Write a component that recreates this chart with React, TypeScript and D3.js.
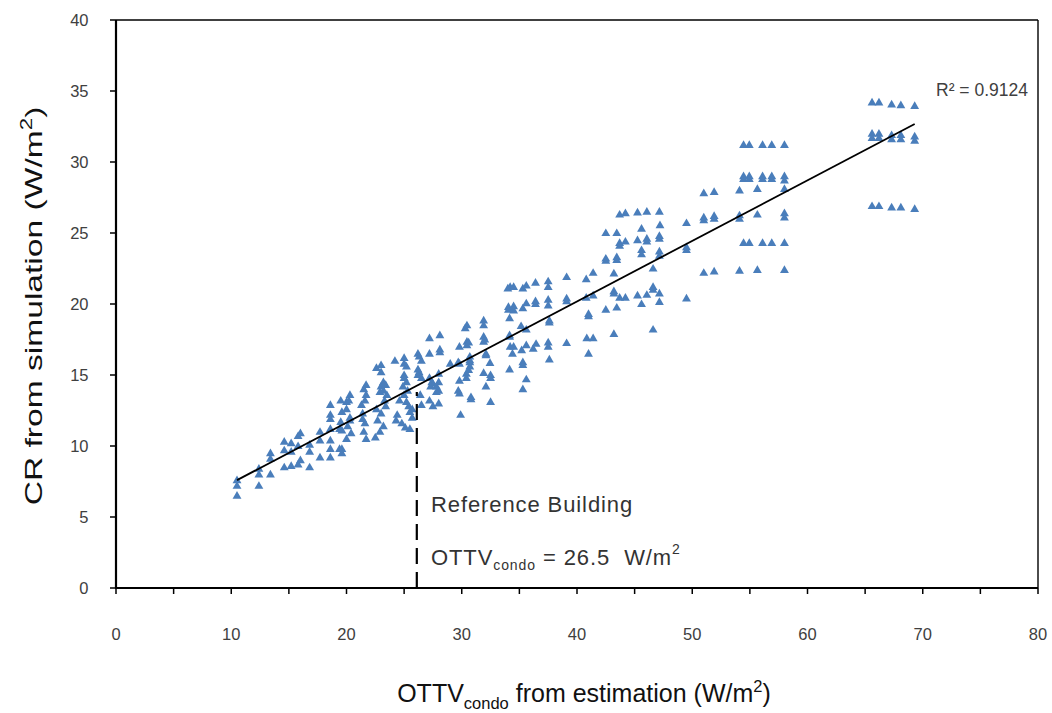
import React from 'react';
import * as d3 from 'd3';

// [OTTV estimate, CR simulation]
const points: [number, number][] = [
  [10.5, 7.6], [10.5, 7.2], [10.5, 6.5],
  [12.4, 8.4], [12.4, 8.0], [12.4, 7.2],
  [13.4, 9.5], [13.4, 9.1], [13.4, 8.0],
  [14.6, 10.3], [14.6, 9.7], [14.6, 8.5],
  [15.2, 10.2], [15.2, 9.6], [15.2, 8.6],
  [15.8, 10.7], [16.0, 10.9], [15.8, 10.0], [16.0, 9.0], [15.8, 8.7],
  [16.8, 10.1], [16.8, 9.6], [16.8, 8.5],
  [17.7, 11.0], [17.7, 10.4], [17.7, 9.2],
  [18.6, 12.9], [18.6, 12.2], [18.6, 11.9], [18.6, 11.2], [18.6, 10.4], [18.6, 9.8], [18.6, 9.2],
  [19.5, 13.2], [19.6, 12.4], [19.5, 11.7], [19.4, 11.2], [19.6, 11.1], [19.4, 9.8], [19.6, 9.8], [19.6, 9.5],
  [20.0, 13.1], [20.3, 13.6], [20.2, 13.2], [20.0, 12.6], [20.3, 12.0], [20.1, 11.4], [20.4, 10.9], [20.0, 10.5], [20.3, 11.8],
  [21.3, 12.9], [21.6, 13.2], [21.7, 13.6], [21.5, 14.0], [21.7, 14.3], [21.4, 12.3], [21.6, 11.6], [21.5, 11.0], [21.7, 10.5], [21.4, 11.9],
  [22.6, 15.5], [22.9, 13.8], [23.0, 15.7], [23.0, 15.2], [23.2, 14.5], [23.0, 14.2], [23.4, 14.3], [23.2, 13.9], [23.5, 13.6],
  [23.3, 13.2], [22.6, 12.6], [23.0, 12.3], [22.7, 11.8], [23.2, 11.4], [22.9, 11.0], [22.5, 10.6], [23.4, 12.8],
  [24.2, 16.0], [25.0, 16.2], [25.0, 15.8], [25.2, 15.6], [25.0, 15.0], [25.0, 14.8], [25.2, 14.5], [24.9, 14.2], [25.3, 13.9],
  [25.0, 13.6], [24.6, 13.2], [25.2, 13.1], [25.4, 12.8], [25.7, 12.6], [25.5, 12.4], [25.7, 12.0], [24.4, 12.2], [24.8, 11.6],
  [25.1, 11.3], [25.5, 11.2], [24.3, 11.8],
  [26.2, 16.5], [26.3, 16.3], [26.5, 16.0], [26.2, 15.4], [26.3, 15.2], [26.2, 15.0], [26.5, 14.8], [26.4, 13.6], [26.5, 12.9],
  [27.2, 17.6], [27.2, 16.5], [27.2, 14.8], [27.4, 14.5], [27.5, 14.4], [27.8, 14.2], [28.0, 13.9], [27.3, 14.2], [27.8, 13.8],
  [27.2, 13.2], [27.5, 12.8], [28.1, 17.8], [28.1, 16.8], [28.1, 16.6], [28.0, 15.1], [28.0, 14.5], [28.0, 13.0],
  [29.7, 15.9], [29.8, 15.8], [29.0, 15.8], [29.8, 14.6], [29.7, 13.9], [29.8, 13.7], [29.8, 17.0], [29.9, 12.2],
  [30.3, 18.3], [30.45, 18.5], [30.45, 17.35], [30.45, 17.1], [30.6, 17.3], [30.7, 16.3], [30.7, 16.05], [30.7, 15.9],
  [30.7, 15.6], [30.6, 15.35], [30.4, 15.1], [30.4, 14.8], [30.8, 13.45], [30.8, 13.3],
  [31.9, 18.85], [31.9, 18.5], [31.9, 17.7], [32.0, 17.5], [31.9, 17.35], [32.1, 16.5], [32.1, 16.4], [32.45, 15.85],
  [31.9, 15.15], [32.5, 15.0], [32.5, 14.8], [32.1, 14.2], [32.5, 13.1],
  [34.0, 21.1], [34.2, 21.2], [34.5, 21.2], [35.3, 21.1], [35.6, 21.3], [36.4, 21.5], [37.5, 21.6], [37.5, 21.2], [39.1, 21.9],
  [34.05, 19.8], [34.05, 19.6], [34.5, 19.85], [34.5, 19.55], [35.3, 19.7], [35.6, 20.05], [36.4, 20.2], [36.4, 20.0],
  [37.5, 20.3], [37.5, 19.9], [39.1, 20.4], [39.1, 20.2],
  [34.15, 19.0], [35.15, 18.45], [35.6, 18.2], [37.6, 18.85], [37.6, 18.7],
  [34.15, 17.8], [34.15, 17.7], [34.2, 17.0], [34.5, 17.0], [34.4, 16.5], [35.2, 16.75], [35.6, 17.1], [36.2, 16.85],
  [36.45, 17.2], [37.5, 17.3], [37.5, 17.0], [39.1, 17.25],
  [34.15, 15.4], [35.3, 15.9], [35.3, 15.7], [37.6, 16.1], [35.6, 14.7], [35.3, 14.0],
  [40.8, 21.75], [41.4, 22.2], [43.2, 22.15], [40.8, 20.45], [41.4, 20.6], [43.2, 20.9], [43.2, 20.75], [43.7, 20.45],
  [44.2, 20.45], [45.25, 20.6], [46.06, 20.65], [46.6, 21.2], [46.6, 21.0], [47.15, 20.75],
  [41.0, 19.3], [41.0, 19.15], [42.5, 19.6], [43.45, 19.75], [45.6, 20.0], [47.15, 20.15],
  [40.85, 17.6], [41.4, 17.6], [43.2, 17.9], [46.6, 18.2], [41.0, 16.5],
  [42.5, 25.0], [43.45, 25.0], [45.6, 25.3], [47.2, 25.55],
  [43.7, 26.3], [44.2, 26.4], [45.25, 26.45], [46.06, 26.5], [47.15, 26.5],
  [43.7, 24.3], [44.2, 24.4], [45.25, 24.5], [46.06, 24.6], [47.15, 24.8], [43.7, 24.1], [46.06, 24.4], [47.15, 24.6],
  [47.15, 23.7], [47.15, 23.4],
  [42.5, 23.2], [42.5, 23.05], [43.45, 23.3], [43.45, 23.1], [45.6, 23.8], [45.6, 23.5], [46.6, 22.5],
  [49.5, 25.7], [49.5, 24.0], [49.5, 23.8], [49.5, 20.4],
  [51.0, 27.8], [51.9, 27.9], [51.0, 26.1], [51.0, 25.9], [51.9, 26.2], [51.9, 26.0], [51.0, 22.2], [51.9, 22.3],
  [54.1, 28.0], [54.1, 26.25], [54.1, 26.0], [54.1, 22.35],
  [54.45, 31.2], [54.95, 31.2], [56.1, 31.2], [56.9, 31.2], [58.0, 31.2],
  [54.45, 29.0], [54.45, 28.8], [54.95, 29.0], [54.95, 28.8], [56.1, 29.0], [56.1, 28.8], [56.9, 29.0], [56.9, 28.8],
  [58.0, 29.0], [58.0, 28.7],
  [54.45, 24.3], [54.95, 24.3], [56.1, 24.3], [56.9, 24.3], [58.0, 24.3],
  [58.0, 28.1], [58.0, 26.4], [58.0, 26.1], [58.0, 22.4],
  [55.65, 28.1], [55.65, 26.3], [55.65, 22.4],
  [65.6, 34.2], [66.2, 34.2], [67.3, 34.05], [68.1, 34.0], [69.3, 33.95],
  [65.6, 32.0], [65.6, 31.7], [66.2, 32.0], [66.2, 31.7], [67.3, 31.9], [67.3, 31.6], [68.1, 31.9], [68.1, 31.6],
  [69.3, 31.8], [69.3, 31.5],
  [65.6, 26.9], [66.2, 26.9], [67.3, 26.8], [68.1, 26.8], [69.3, 26.7],
];

const xTickValues = [0, 10, 20, 30, 40, 50, 60, 70, 80];
const xMinorTicks = d3.range(0, 81, 5);
const yTickValues = [0, 5, 10, 15, 20, 25, 30, 35, 40];

// linear trend shown on the chart
const trendSlope = 0.4265;
const trendIntercept = 3.12;
const trendFrom = 10.5;
const trendTo = 69.3;
const rSquaredLabel = 'R² = 0.9124';

// reference building marker
const refX = 26.1;
const refTopY = 13.8;

const W = 1052;
const H = 713;
const left = 116;
const right = 1038;
const top = 20;
const bottom = 588;

export default function App() {
  const x = d3.scaleLinear().domain([0, 80]).range([left, right]);
  const y = d3.scaleLinear().domain([0, 40]).range([bottom, top]);
  const tri = d3.symbol().type(d3.symbolTriangle).size(34)();
  const labelFont = '"Liberation Sans", Arial, sans-serif';

  return (
    <svg width={W} height={H} style={{ position: 'absolute', left: 0, top: 0, background: '#fff' }}>
      {/* frame */}
      <line x1={left} x2={right} y1={top} y2={top} stroke="#000" strokeWidth={1.6} />
      <line x1={right} x2={right} y1={top} y2={bottom} stroke="#000" strokeWidth={1.4} />

      {/* points */}
      <g fill="#4a7ebb">
        {points.map(([px, py], i) => (
          <path key={i} d={tri!} transform={`translate(${x(px)},${y(py) + 0.5})`} />
        ))}
      </g>

      {/* trend line */}
      <line
        x1={x(trendFrom)}
        y1={y(trendIntercept + trendSlope * trendFrom)}
        x2={x(trendTo)}
        y2={y(trendIntercept + trendSlope * trendTo)}
        stroke="#000"
        strokeWidth={1.8}
      />

      {/* reference dashed line */}
      <line
        x1={x(refX)}
        x2={x(refX)}
        y1={y(0)}
        y2={y(refTopY)}
        stroke="#000"
        strokeWidth={2.2}
        strokeDasharray="16,8"
      />

      {/* axes */}
      <line x1={left} x2={left} y1={top} y2={bottom} stroke="#000" strokeWidth={2.2} />
      <line x1={left - 1} x2={right} y1={bottom} y2={bottom} stroke="#000" strokeWidth={2.2} />
      {yTickValues.map(v => (
        <g key={'y' + v}>
          <line x1={left - 6} x2={left} y1={y(v)} y2={y(v)} stroke="#000" strokeWidth={1.5} />
          <text x={88.5} y={y(v) + 6} textAnchor="end" fontSize={16.5} fill="#404040" fontFamily={labelFont}>
            {v}
          </text>
        </g>
      ))}
      {xMinorTicks.map(v => (
        <line key={'xt' + v} x1={x(v)} x2={x(v)} y1={bottom} y2={bottom + 6} stroke="#000" strokeWidth={1.5} />
      ))}
      {xTickValues.map(v => (
        <text key={'x' + v} x={x(v)} y={640} textAnchor="middle" fontSize={16.5} fill="#404040" fontFamily={labelFont}>
          {v}
        </text>
      ))}

      {/* R² */}
      <text x={936} y={96} fontSize={17.5} fill="#404040" fontFamily={labelFont}>
        {rSquaredLabel}
      </text>

      {/* annotation */}
      <text x={431} y={512} fontSize={22} letterSpacing={0.9} fill="#333" fontFamily={labelFont}>
        Reference Building
      </text>
      <text x={431} y={565} fontSize={22} letterSpacing={0.9} fill="#333" fontFamily={labelFont} style={{ whiteSpace: 'pre' }}>
        OTTV
        <tspan fontSize={14} dy={5}>condo</tspan>
        <tspan dy={-5}>{' = 26.5  W/m'}</tspan>
        <tspan fontSize={14} dy={-11}>2</tspan>
      </text>

      {/* axis titles */}
      <text x={584} y={702} textAnchor="middle" fontSize={25} fill="#111" fontFamily={labelFont}>
        OTTV
        <tspan fontSize={16.5} dy={7}>condo</tspan>
        <tspan dy={-7}> from estimation (W/m</tspan>
        <tspan fontSize={16.5} dy={-10}>2</tspan>
        <tspan dy={10}>)</tspan>
      </text>
      <text
        transform="translate(42,306) scale(1,1.4) rotate(-90)"
        textAnchor="middle"
        fontSize={24}
        fill="#111"
        fontFamily={labelFont}
      >
        CR from simulation (W/m
        <tspan fontSize={16} dy={-10}>2</tspan>
        <tspan dy={10}>)</tspan>
      </text>
    </svg>
  );
}
